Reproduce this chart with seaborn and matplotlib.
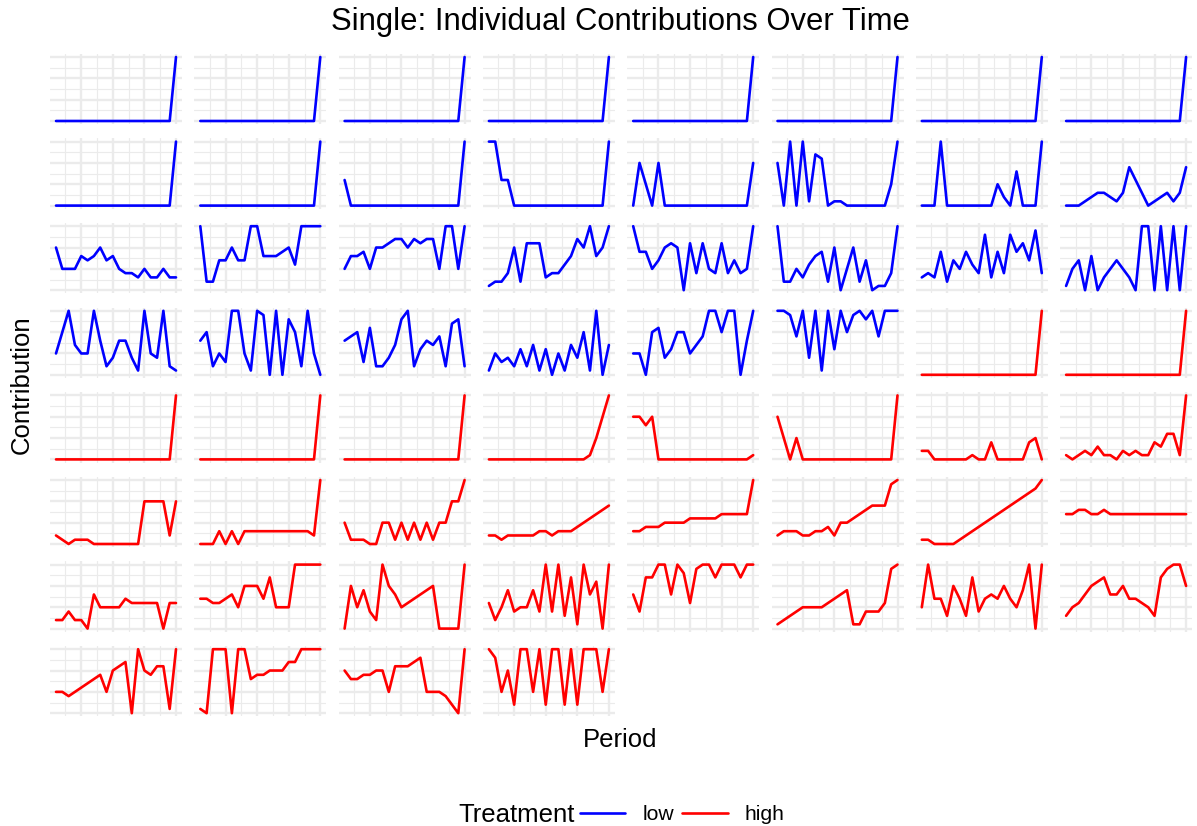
import numpy as np
import pandas as pd
import matplotlib
matplotlib.use("Agg")
import matplotlib.pyplot as plt
from matplotlib.lines import Line2D
import seaborn as sns

nan = np.nan

# Contributions per subject, periods 1..20 (NaN = no record for that period)
low_01 = [0, 0, 0, 0, 0, 0, 0, 0, 0, 0, 0, 0, 0, 0, 0, 0, 0, 0, 0, 15]
low_02 = [0, 0, 0, 0, 0, 0, 0, 0, 0, 0, 0, 0, 0, 0, 0, 0, 0, 0, 0, 15]
low_03 = [0, 0, 0, 0, 0, 0, 0, 0, 0, 0, 0, 0, 0, 0, 0, 0, 0, 0, 0, 15]
low_04 = [0, 0, 0, 0, 0, 0, 0, 0, 0, 0, 0, 0, 0, 0, 0, 0, 0, 0, 0, 15]
low_05 = [0, 0, 0, 0, 0, 0, 0, 0, 0, 0, 0, 0, 0, 0, 0, 0, 0, 0, 0, 15]
low_06 = [0, 0, 0, 0, 0, 0, 0, 0, 0, 0, 0, 0, 0, 0, 0, 0, 0, 0, 0, 15]
low_07 = [0, 0, 0, 0, 0, 0, 0, 0, 0, 0, 0, 0, 0, 0, 0, 0, 0, 0, 0, 15]
low_08 = [0, 0, 0, 0, 0, 0, 0, 0, 0, 0, 0, 0, 0, 0, 0, 0, 0, 0, 0, 15]
low_09 = [0, 0, 0, 0, 0, 0, 0, 0, 0, 0, 0, 0, 0, 0, 0, 0, 0, 0, 0, 15]
low_10 = [0, 0, 0, 0, 0, 0, 0, 0, 0, 0, 0, 0, 0, 0, 0, 0, 0, 0, 0, 15]
low_11 = [6, 0, 0, 0, 0, 0, 0, 0, 0, 0, 0, 0, 0, 0, 0, 0, 0, 0, 0, 15]
low_12 = [15, 15, 6, 6, 0, 0, 0, 0, 0, 0, 0, 0, 0, 0, 0, 0, 0, 0, 0, 15]
low_13 = [0, 10, 5, 0, 10, 0, 0, 0, 0, 0, 0, 0, 0, 0, 0, 0, 0, 0, 0, 10]
low_14 = [10, 0, 15, 0, 15, 1, 12, 11, 0, 1, 1, 0, 0, 0, 0, 0, 0, 0, 5, 15]
low_15 = [0, 0, 0, 15, 0, 0, 0, 0, 0, 0, 0, 0, 5, 2, 0, 8, 0, 0, 0, 15]
low_16 = [0, 0, 0, 1, 2, 3, 3, 2, 1, 3, 9, 6, 3, 0, 1, 2, 3, 1, 3, 9]
low_17 = [10, 5, 5, 5, 8, 7, 8, 10, 7, 8, 5, 4, 4, 3, 5, 3, 3, 5, 3, 3]
low_18 = [15, 2, 2, 7, 7, 10, 7, 7, 15, 15, 8, 8, 8, 9, 10, 6, 15, 15, 15, 15]
low_19 = [5, 8, 8, 9, 5, 10, 10, 11, 12, 12, 10, 12, 11, 12, 12, 5, 15, 15, 5, 15]
low_20 = [1, 2, 2, 4, 10, 2, 11, 11, 11, 3, 4, 4, 6, 8, 12, 10, 15, 8, 10, 15]
low_21 = [15, 9, 9, 5, 7, 10, 11, 10, 0, 11, 4, 11, 5, 4, 11, 4, 7, 4, 5, 15]
low_22 = [15, 2, 2, 5, 3, 6, 8, 9, 2, 10, 0, 5, 10, 2, 7, 0, 1, 1, 4, 15]
low_23 = [3, 4, 3, 9, 2, 7, 5, 9, 6, 4, 13, 3, 9, 4, 13, 9, 11, 7, 14, 4]
low_24 = [1, 5, 7, 0, 8, 0, 3, 5, 7, 5, 3, 0, 15, 15, 0, 15, 0, 15, 0, 15]
low_25 = [5, 10, 15, 7, 5, 5, 15, 8, 2, 4, 8, 8, 4, 1, 15, 5, 4, 15, 2, 1]
low_26 = [8, 10, 2, 5, 3, 15, 15, 5, 1, 15, 14, 0, 15, 0, 13, 10, 2, 15, 5, 0]
low_27 = [8, 9, 10, 3, 11, 2, 2, 4, 7, 13, 15, 2, 6, 8, 7, 9, 2, 12, 13, 2]
low_28 = [1, 5, 3, 4, 2, 6, 2, 7, 1, 6, 0, 5, 1, 7, 4, 10, 1, 15, 0, 7]
low_29 = [5, 5, 0, 10, 11, 4, 6, 10, 10, 5, 7, 9, 15, 15, 10, 15, 15, 0, 8, 15]
low_30 = [15, 15, 14, 9, 15, 4, 15, 1, 15, 6, 15, 10, 14, 15, 13, 15, 9, 15, 15, 15]

high_01 = [0, 0, 0, 0, 0, 0, 0, 0, 0, 0, 0, 0, 0, 0, 0, 0, 0, 0, 0, 15]
high_02 = [0, 0, 0, 0, 0, 0, 0, 0, 0, 0, 0, 0, 0, 0, 0, 0, 0, 0, 0, 15]
high_03 = [0, 0, 0, 0, 0, 0, 0, 0, 0, 0, 0, 0, 0, 0, 0, 0, 0, 0, 0, 15]
high_04 = [0, 0, 0, 0, 0, 0, 0, 0, 0, 0, 0, 0, 0, 0, 0, 0, 0, 0, 0, 15]
high_05 = [0, 0, 0, 0, 0, 0, 0, 0, 0, 0, 0, 0, 0, 0, 0, 0, 0, 0, 0, 15]
high_06 = [0, 0, 0, 0, 0, 0, 0, 0, 0, 0, 0, 0, 0, 0, 0, 0, 1, 5, 10, 15]
high_07 = [10, 10, 8, 10, 0, 0, 0, 0, 0, 0, 0, 0, 0, 0, 0, 0, 0, 0, 0, 1]
high_08 = [10, 5, 0, 5, 0, 0, 0, 0, 0, 0, 0, 0, 0, 0, 0, 0, 0, 0, 0, 15]
high_09 = [2, 2, 0, 0, 0, 0, 0, 0, 1, 0, 0, 4, 0, 0, 0, 0, 0, 4, 5, 0]
high_10 = [1, 0, 1, 2, 1, 3, 1, 1, 0, 2, 1, 2, 1, 1, 4, 3, 6, 6, 1, 15]
high_11 = [2, 1, 0, 1, 1, 1, 0, 0, 0, 0, 0, 0, 0, 0, 10, 10, 10, 10, 2, 10]
high_12 = [0, 0, 0, 3, 0, 3, 0, 3, 3, 3, 3, 3, 3, 3, 3, 3, 3, 3, 2, 15]
high_13 = [5, 1, 1, 1, 0, 0, 5, 5, 1, 5, 1, 5, 1, 5, 1, 5, 5, 10, 10, 15]
high_14 = [2, 2, 1, 2, 2, 2, 2, 2, 3, 3, 2, 3, 3, 3, nan, nan, nan, nan, nan, 9]
high_15 = [3, 3, 4, 4, 4, 5, 5, 5, 5, 6, 6, 6, 6, 6, 7, 7, 7, 7, 7, 15]
high_16 = [2, 3, 3, 3, 2, 2, 3, 3, 4, 2, 5, 5, 6, 7, 8, 9, 9, 9, 14, 15]
high_17 = [1, 1, 0, 0, 0, 0, nan, nan, nan, nan, nan, nan, nan, nan, nan, nan, nan, nan, 13, 15]
high_18 = [7, 7, 8, 8, 7, 7, 8, 7, 7, 7, 7, 7, 7, 7, 7, 7, 7, 7, 7, 7]
high_19 = [2, 2, 4, 2, 2, 0, 8, 5, 5, 5, 5, 7, 6, 6, 6, 6, 6, 0, 6, 6]
high_20 = [7, 7, 6, 6, 7, 8, 5, 10, 10, 10, 7, 12, 5, 5, 5, 15, 15, 15, 15, 15]
high_21 = [0, 10, 5, 9, 4, 2, 15, 10, 8, 5, nan, nan, nan, nan, 10, 0, 0, 0, 0, 15]
high_22 = [6, 2, 5, 9, 4, 5, 5, 9, 4, 15, 4, 15, 3, 12, 1, 15, 8, 11, 0, 15]
high_23 = [8, 4, 12, 12, 15, 15, 8, 15, 13, 6, 14, 15, 15, 12, 15, 15, 15, 12, 15, 15]
high_24 = [1, nan, nan, nan, 5, 5, 5, 5, nan, nan, nan, 9, 1, 1, 4, 4, 4, 6, 14, 15]
high_25 = [5, 15, 7, 7, 3, 10, 7, 3, 12, 4, 7, 8, 7, 10, 7, 5, 9, 15, 0, 15]
high_26 = [3, 5, 6, 8, 10, 11, 12, 8, 8, 10, 7, 7, 6, 5, 3, 12, 14, 15, 15, 10]
high_27 = [5, 5, 4, nan, nan, nan, nan, 9, 5, 10, 11, 12, 0, 15, 10, 9, 11, 11, 1, 15]
high_28 = [1, 0, 15, 15, 15, 0, 15, 15, 8, 9, 9, 10, 10, 10, 12, 12, 15, 15, 15, 15]
high_29 = [10, 8, 8, 9, 9, 10, 10, 5, 11, 11, 11, 12, 13, 5, 5, 5, 4, 2, 0, 15]
high_30 = [15, 13, 5, 10, 2, 15, 15, 5, 15, 2, 15, 15, 2, 15, 2, 15, 15, 15, 5, 15]

low_series = [low_01, low_02, low_03, low_04, low_05, low_06, low_07, low_08,
              low_09, low_10, low_11, low_12, low_13, low_14, low_15, low_16,
              low_17, low_18, low_19, low_20, low_21, low_22, low_23, low_24,
              low_25, low_26, low_27, low_28, low_29, low_30]
high_series = [high_01, high_02, high_03, high_04, high_05, high_06, high_07, high_08,
               high_09, high_10, high_11, high_12, high_13, high_14, high_15, high_16,
               high_17, high_18, high_19, high_20, high_21, high_22, high_23, high_24,
               high_25, high_26, high_27, high_28, high_29, high_30]

periods = list(range(1, 21))
treatments = ["low", "high"]
treatment_colors = {"low": "#0000FF", "high": "#FF0000"}

# Long-format table: one row per subject and period
rows = []
subject_id = 0
for treatment, series_list in zip(treatments, [low_series, high_series]):
    for series in series_list:
        subject_id += 1
        for p, v in zip(periods, series):
            rows.append({"subject": subject_id, "treatment": treatment,
                         "period": p, "contribution": v})
df = pd.DataFrame(rows).dropna()

sns.set_theme(style="white")
plt.rcParams["font.family"] = ["Liberation Sans", "DejaVu Sans"]
plt.rcParams["text.color"] = "black"

W, H = 1197, 826
fig = plt.figure(figsize=(W / 100, H / 100), dpi=100)

ncol = 8
panel_left, panel_top = 50.0, 53.8
panel_w, panel_h = 132.0, 70.4
step_x, step_y = 144.3, 84.6

grid_col = "#EBEBEB"
for idx, (subj, sub) in enumerate(df.groupby("subject", sort=True)):
    r, c = divmod(idx, ncol)
    x0 = panel_left + c * step_x
    y0 = panel_top + r * step_y
    ax = fig.add_axes([x0 / W, 1 - (y0 + panel_h) / H, panel_w / W, panel_h / H])
    ax.set_axisbelow(True)
    sns.lineplot(data=sub, x="period", y="contribution", hue="treatment",
                 hue_order=treatments, palette=treatment_colors,
                 linewidth=1.9, legend=False, ax=ax)
    ax.set_xlim(0.05, 20.95)
    ax.set_ylim(-0.75, 15.75)
    ax.set_xticks([5, 10, 15, 20])
    ax.set_xticks([2.5, 7.5, 12.5, 17.5], minor=True)
    ax.set_yticks([0, 5, 10, 15])
    ax.set_yticks([2.5, 7.5, 12.5], minor=True)
    ax.grid(which="major", color=grid_col, linewidth=1.7)
    ax.grid(which="minor", color=grid_col, linewidth=0.85)
    ax.tick_params(which="both", length=0, labelbottom=False, labelleft=False)
    for s in ax.spines.values():
        s.set_visible(False)
    ax.set_xlabel("")
    ax.set_ylabel("")
    ax.set_facecolor("white")

fig.text(620.5 / W, 1 - 22 / H, "Single: Individual Contributions Over Time",
         ha="center", va="center", fontsize=22.3, color="black")
fig.text(620.5 / W, 1 - 740 / H, "Period", ha="center", va="center",
         fontsize=18.5, color="black")
fig.text(22 / W, 1 - 385 / H, "Contribution", ha="center", va="center",
         rotation=90, fontsize=18.5, color="black")

fig.text(458 / W, 1 - 815 / H, "Treatment", ha="left", va="center",
         fontsize=18.5, color="black")
handles = [Line2D([], [], color=treatment_colors[t], linewidth=1.9) for t in treatments]
leg = fig.legend(handles, treatments, loc="center left",
                 bbox_to_anchor=(580 / W, 1 - 815 / H), ncol=2, frameon=False,
                 fontsize=15.2, handlelength=2.15, handletextpad=0.8,
                 columnspacing=0.4, borderpad=0, borderaxespad=0)
for t in leg.get_texts():
    t.set_color("black")

fig.savefig("out.png", dpi=100, facecolor="white")
